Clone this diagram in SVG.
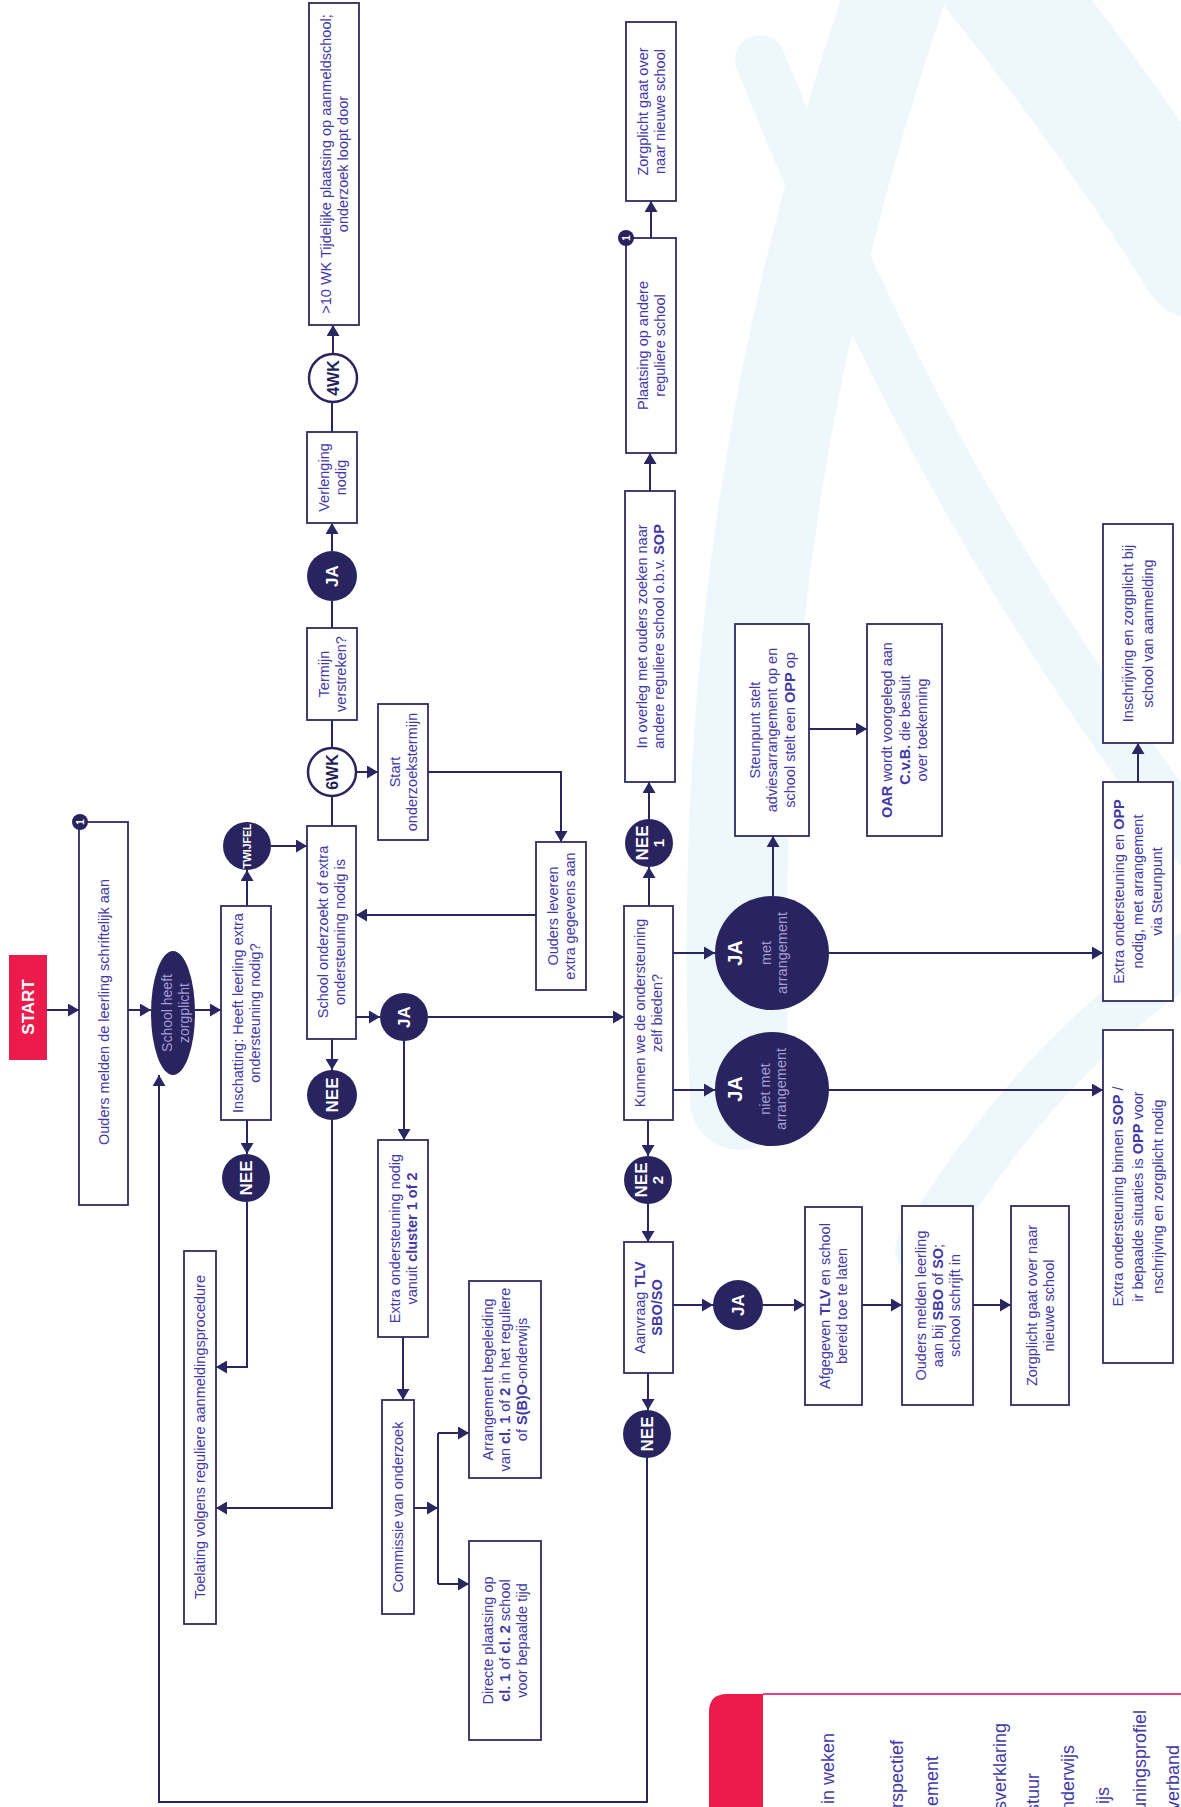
<svg xmlns="http://www.w3.org/2000/svg" width="1181" height="1807" viewBox="0 0 1181 1807">
<defs>
<style>
.box{fill:#fff;stroke:#2f2c62;stroke-width:1.8}
.c{fill:#29245f}
.w{fill:#fff;stroke:#29245f;stroke-width:2.5}
.ln{fill:none;stroke:#2a2662;stroke-width:2;marker-end:url(#ah)}
.ln0{fill:none;stroke:#2a2662;stroke-width:2}
.t{font-family:"Liberation Sans",Arial,sans-serif;font-size:14.5px;fill:#4338a8;text-anchor:middle}
.b{font-weight:bold}
.ct{font-family:"Liberation Sans",Arial,sans-serif;font-weight:bold;fill:#fff;text-anchor:middle}
.cw{font-family:"Liberation Sans",Arial,sans-serif;font-weight:bold;fill:#231f5a;text-anchor:middle;font-size:16px}
.cl{font-family:"Liberation Sans",Arial,sans-serif;fill:#a49dd6;text-anchor:middle;font-size:14.5px}
.lg{font-family:"Liberation Sans",Arial,sans-serif;fill:#4338a8;text-anchor:end;font-size:18px}
.wm{fill:none;stroke:#eef7fc;stroke-linecap:round}
</style>
<marker id="ah" markerUnits="userSpaceOnUse" markerWidth="11" markerHeight="13" refX="11" refY="6.5" orient="auto">
<path d="M0,0 L11,6.5 L0,13 Z" fill="#2a2662"/>
</marker>
</defs>
<rect width="1181" height="1807" fill="#fff"/>
<g id="watermark">
<path class="wm" d="M900,-20 C790,300 720,650 740,1100" stroke-width="100"/>
<path class="wm" d="M760,60 C850,280 950,520 1200,850" stroke-width="50"/>
<path class="wm" d="M1200,950 C1090,1020 1000,1120 920,1250" stroke-width="50"/>
<path class="wm" d="M1000,-20 C1080,80 1150,180 1200,260" stroke-width="120"/>
</g>
<g id="connectors">
<path class="ln" d="M47,1010 H79"/>
<path class="ln" d="M128,1010 H151"/>
<path class="ln" d="M195,1010 H221"/>
<path class="ln" d="M247,906 V870"/>
<path class="ln" d="M271,846 H307"/>
<path class="ln0" d="M332,826 V796"/>
<path class="ln" d="M356,772 H378"/>
<path class="ln0" d="M332,748 V720"/>
<path class="ln0" d="M332,628 V601"/>
<path class="ln" d="M332,551 V523"/>
<path class="ln0" d="M332,432 V402"/>
<path class="ln" d="M333,354 V325"/>
<path class="ln" d="M428,772 H561 V842"/>
<path class="ln" d="M536,915 H356"/>
<path class="ln" d="M332,1039 V1070"/>
<path class="ln" d="M332,1120 V1508 H216"/>
<path class="ln" d="M247,1120 V1154"/>
<path class="ln" d="M247,1202 V1367 H216"/>
<path class="ln" d="M356,1017 H380"/>
<path class="ln" d="M428,1017 H624"/>
<path class="ln" d="M404,1041 V1140"/>
<path class="ln" d="M403,1337 V1400"/>
<path class="ln" d="M414,1508 H438"/>
<path class="ln0" d="M438,1433 V1584"/>
<path class="ln" d="M438,1433 H469"/>
<path class="ln" d="M438,1584 H469"/>
<path class="ln" d="M649,906 V867"/>
<path class="ln" d="M649,819 V782"/>
<path class="ln" d="M650,491 V453"/>
<path class="ln" d="M651,238 V201"/>
<path class="ln" d="M673,953 H715"/>
<path class="ln" d="M673,1090 H715"/>
<path class="ln" d="M773,896 V836"/>
<path class="ln" d="M809,729 H867"/>
<path class="ln" d="M829,953 H1103"/>
<path class="ln" d="M829,1090 H1103"/>
<path class="ln" d="M1138,782 V743"/>
<path class="ln" d="M648,1120 V1156"/>
<path class="ln" d="M648,1204 V1242"/>
<path class="ln" d="M673,1305 H713"/>
<path class="ln" d="M763,1305 H805"/>
<path class="ln" d="M862,1305 H902"/>
<path class="ln" d="M973,1305 H1011"/>
<path class="ln" d="M648,1373 V1410"/>
<path class="ln" d="M647,1458 V1802 H159 V1075"/>
</g>
<g id="start">
<rect x="9" y="955" width="38" height="105" fill="#ec1b4b"/>
<text class="ct" style="font-size:17px" transform="rotate(-90 28 1007)" x="28" y="1013">START</text>
</g>
<g id="ouders-melden">
<rect class="box" x="79" y="822" width="49" height="383"/>
<text class="t" transform="rotate(-90 104 1012)"><tspan x="104" y="1017">Ouders melden de leerling schriftelijk aan</tspan></text>
<circle class="c" cx="80" cy="822" r="8"/>
<text class="ct" style="font-size:10px" transform="rotate(-90 80 822)" x="80" y="826">1</text>
</g>
<g id="zorgplicht-ellipse">
<ellipse class="c" cx="173" cy="1013" rx="22" ry="62"/>
<text class="cl" style="font-size:14px" transform="rotate(-90 173 1013)"><tspan x="173" y="1012">School heeft</tspan><tspan x="173" y="1029">zorgplicht</tspan></text>
</g>
<g id="inschatting">
<rect class="box" x="221" y="906" width="50" height="214"/>
<text class="t" transform="rotate(-90 246 1013)"><tspan x="246" y="1009.5">Inschatting: Heeft leerling extra</tspan><tspan x="246" y="1026.5">ondersteuning nodig?</tspan></text>
</g>
<g id="twijfel">
<circle class="c" cx="247" cy="846" r="24"/>
<text class="ct" style="font-size:10.5px" transform="rotate(-90 247 846)" x="247" y="850">TWIJFEL</text>
</g>
<g id="school-onderzoekt">
<rect class="box" x="307" y="826" width="49" height="213"/>
<text class="t" transform="rotate(-90 331.5 932)"><tspan x="331.5" y="928.5">School onderzoekt of extra</tspan><tspan x="331.5" y="945.5">ondersteuning nodig is</tspan></text>
</g>
<g id="wk6">
<circle class="w" cx="332" cy="772" r="24"/>
<text class="cw" transform="rotate(-90 332 772)" x="332" y="777.5">6WK</text>
</g>
<g id="termijn">
<rect class="box" x="307" y="628" width="50" height="92"/>
<text class="t" transform="rotate(-90 332 674)"><tspan x="332" y="670.5">Termijn</tspan><tspan x="332" y="687.5">verstreken?</tspan></text>
</g>
<g id="ja-termijn">
<circle class="c" cx="332" cy="576" r="25"/>
<text class="ct" style="font-size:17px" transform="rotate(-90 332 576)" x="332" y="582">JA</text>
</g>
<g id="verlenging">
<rect class="box" x="307" y="432" width="50" height="91"/>
<text class="t" transform="rotate(-90 332 477.5)"><tspan x="332" y="474">Verlenging</tspan><tspan x="332" y="491">nodig</tspan></text>
</g>
<g id="wk4">
<circle class="w" cx="333" cy="378" r="24"/>
<text class="cw" transform="rotate(-90 333 378)" x="333" y="383.5">4WK</text>
</g>
<g id="tijdelijke-plaatsing">
<rect class="box" x="309" y="3" width="50" height="322"/>
<text class="t" transform="rotate(-90 334 164)"><tspan x="334" y="160.5">&gt;10 WK Tijdelijke plaatsing op aanmeldschool;</tspan><tspan x="334" y="177.5">onderzoek loopt door</tspan></text>
</g>
<g id="start-onderzoekstermijn">
<rect class="box" x="378" y="704" width="50" height="136"/>
<text class="t" transform="rotate(-90 403 772)"><tspan x="403" y="768.5">Start</tspan><tspan x="403" y="785.5">onderzoekstermijn</tspan></text>
</g>
<g id="ouders-leveren">
<rect class="box" x="536" y="842" width="50" height="148"/>
<text class="t" transform="rotate(-90 561 916)"><tspan x="561" y="912.5">Ouders leveren</tspan><tspan x="561" y="929.5">extra gegevens aan</tspan></text>
</g>
<g id="nee-onderzoek">
<circle class="c" cx="332" cy="1095" r="25"/>
<text class="ct" style="font-size:17px" transform="rotate(-90 332 1095)" x="332" y="1101">NEE</text>
</g>
<g id="nee-inschatting">
<circle class="c" cx="246" cy="1178" r="24"/>
<text class="ct" style="font-size:17px" transform="rotate(-90 246 1178)" x="246" y="1184">NEE</text>
</g>
<g id="toelating">
<rect class="box" x="184" y="1251" width="32" height="373"/>
<text class="t" transform="rotate(-90 200 1437)"><tspan x="200" y="1442">Toelating volgens reguliere aanmeldingsprocedure</tspan></text>
</g>
<g id="ja-onderzoek">
<circle class="c" cx="404" cy="1017" r="24"/>
<text class="ct" style="font-size:17px" transform="rotate(-90 404 1017)" x="404" y="1023">JA</text>
</g>
<g id="extra-cluster">
<rect class="box" x="378" y="1140" width="50" height="197"/>
<text class="t" transform="rotate(-90 403 1238.5)"><tspan x="403" y="1235">Extra ondersteuning nodig</tspan><tspan x="403" y="1252">vanuit <tspan class="b">cluster 1 of 2</tspan></tspan></text>
</g>
<g id="commissie">
<rect class="box" x="382" y="1400" width="32" height="214"/>
<text class="t" transform="rotate(-90 398 1507)"><tspan x="398" y="1512">Commissie van onderzoek</tspan></text>
</g>
<g id="arrangement-begeleiding">
<rect class="box" x="469" y="1281" width="72" height="197"/>
<text class="t" transform="rotate(-90 505 1379.5)"><tspan x="505" y="1367.5">Arrangement begeleiding</tspan><tspan x="505" y="1384.5">van <tspan class="b">cl. 1</tspan> of <tspan class="b">2</tspan> in het reguliere</tspan><tspan x="505" y="1401.5">of <tspan class="b">S(B)O</tspan>-onderwijs</tspan></text>
</g>
<g id="directe-plaatsing">
<rect class="box" x="469" y="1541" width="72" height="199"/>
<text class="t" transform="rotate(-90 505 1640.5)"><tspan x="505" y="1628.5">Directe plaatsing op</tspan><tspan x="505" y="1645.5"><tspan class="b">cl. 1</tspan> of <tspan class="b">cl. 2</tspan> school</tspan><tspan x="505" y="1662.5">voor bepaalde tijd</tspan></text>
</g>
<g id="kunnen">
<rect class="box" x="624" y="906" width="49" height="214"/>
<text class="t" transform="rotate(-90 648.5 1013)"><tspan x="648.5" y="1009.5">Kunnen we de ondersteuning</tspan><tspan x="648.5" y="1026.5">zelf bieden?</tspan></text>
</g>
<g id="nee1">
<circle class="c" cx="649" cy="843" r="24"/>
<text class="ct" style="font-size:17px" transform="rotate(-90 649 843)"><tspan x="649" y="842">NEE</tspan><tspan x="649" y="858" style="font-size:15px">1</tspan></text>
</g>
<g id="in-overleg">
<rect class="box" x="625" y="491" width="50" height="291"/>
<text class="t" transform="rotate(-90 650 636.5)"><tspan x="650" y="633">In overleg met ouders zoeken naar</tspan><tspan x="650" y="650">andere reguliere school o.b.v. <tspan class="b">SOP</tspan></tspan></text>
</g>
<g id="plaatsing-andere">
<rect class="box" x="626" y="238" width="50" height="215"/>
<text class="t" transform="rotate(-90 651 345.5)"><tspan x="651" y="342">Plaatsing op andere</tspan><tspan x="651" y="359">reguliere school</tspan></text>
<circle class="c" cx="626" cy="238" r="8"/>
<text class="ct" style="font-size:10px" transform="rotate(-90 626 238)" x="626" y="242">1</text>
</g>
<g id="zorgplicht-over-1">
<rect class="box" x="626" y="22" width="50" height="179"/>
<text class="t" transform="rotate(-90 651 111.5)"><tspan x="651" y="108">Zorgplicht gaat over</tspan><tspan x="651" y="125">naar nieuwe school</tspan></text>
</g>
<g id="ja-met">
<circle class="c" cx="772" cy="953" r="57"/>
<text class="ct" style="font-size:20px" transform="rotate(-90 772 953)" x="772" y="923">JA</text>
<text class="cl" transform="rotate(-90 772 953)"><tspan x="772" y="952">met</tspan><tspan x="772" y="968">arrangement</tspan></text>
</g>
<g id="ja-niet-met">
<circle class="c" cx="772" cy="1089" r="57"/>
<text class="ct" style="font-size:20px" transform="rotate(-90 772 1089)" x="772" y="1059">JA</text>
<text class="cl" transform="rotate(-90 772 1089)"><tspan x="772" y="1087">niet met</tspan><tspan x="772" y="1103">arrangement</tspan></text>
</g>
<g id="steunpunt">
<rect class="box" x="735" y="624" width="74" height="212"/>
<text class="t" transform="rotate(-90 772 730)"><tspan x="772" y="717.5">Steunpunt stelt</tspan><tspan x="772" y="735">adviesarrangement op en</tspan><tspan x="772" y="752.5">school stelt een <tspan class="b">OPP</tspan> op</tspan></text>
</g>
<g id="oar">
<rect class="box" x="867" y="624" width="75" height="212"/>
<text class="t" transform="rotate(-90 904.5 730)"><tspan x="904.5" y="717.5"><tspan class="b">OAR</tspan> wordt voorgelegd aan</tspan><tspan x="904.5" y="735"><tspan class="b">C.v.B.</tspan> die besluit</tspan><tspan x="904.5" y="752.5">over toekenning</tspan></text>
</g>
<g id="extra-opp">
<rect class="box" x="1103" y="782" width="70" height="219"/>
<text class="t" transform="rotate(-90 1138 891.5)"><tspan x="1138" y="877.5">Extra ondersteuning en <tspan class="b">OPP</tspan></tspan><tspan x="1138" y="896.5">nodig, met arrangement</tspan><tspan x="1138" y="915.5">via Steunpunt</tspan></text>
</g>
<g id="inschrijving">
<rect class="box" x="1103" y="524" width="70" height="219"/>
<text class="t" transform="rotate(-90 1138 633.5)"><tspan x="1138" y="628">Inschrijving en zorgplicht bij</tspan><tspan x="1138" y="648">school van aanmelding</tspan></text>
</g>
<g id="extra-sop">
<rect class="box" x="1103" y="1030" width="70" height="333"/>
<text class="t" transform="rotate(-90 1138 1196.5)"><tspan x="1138" y="1181.5">Extra ondersteuning binnen <tspan class="b">SOP</tspan> /</tspan><tspan x="1138" y="1201.5">ir bepaalde situaties is <tspan class="b">OPP</tspan> voor</tspan><tspan x="1138" y="1221.5">nschrijving en zorgplicht nodig</tspan></text>
</g>
<g id="nee2">
<circle class="c" cx="648" cy="1180" r="24"/>
<text class="ct" style="font-size:17px" transform="rotate(-90 648 1180)"><tspan x="648" y="1179">NEE</tspan><tspan x="648" y="1195" style="font-size:15px">2</tspan></text>
</g>
<g id="aanvraag-tlv">
<rect class="box" x="624" y="1242" width="49" height="131"/>
<text class="t" transform="rotate(-90 648.5 1307.5)"><tspan x="648.5" y="1304">Aanvraag <tspan class="b">TLV</tspan></tspan><tspan x="648.5" y="1321" class="b">SBO/SO</tspan></text>
</g>
<g id="ja-tlv">
<circle class="c" cx="738" cy="1305" r="25"/>
<text class="ct" style="font-size:17px" transform="rotate(-90 738 1305)" x="738" y="1311">JA</text>
</g>
<g id="afgegeven-tlv">
<rect class="box" x="805" y="1207" width="57" height="198"/>
<text class="t" transform="rotate(-90 833.5 1306)"><tspan x="833.5" y="1302.5">Afgegeven <tspan class="b">TLV</tspan> en school</tspan><tspan x="833.5" y="1319.5">bereid toe te laten</tspan></text>
</g>
<g id="ouders-melden-sbo">
<rect class="box" x="902" y="1206" width="71" height="199"/>
<text class="t" transform="rotate(-90 937.5 1305.5)"><tspan x="937.5" y="1293.5">Ouders melden leerling</tspan><tspan x="937.5" y="1310.5">aan bij <tspan class="b">SBO</tspan> of <tspan class="b">SO</tspan>;</tspan><tspan x="937.5" y="1327.5">school schrijft in</tspan></text>
</g>
<g id="zorgplicht-over-2">
<rect class="box" x="1011" y="1206" width="58" height="199"/>
<text class="t" transform="rotate(-90 1040 1305.5)"><tspan x="1040" y="1302">Zorgplicht gaat over naar</tspan><tspan x="1040" y="1319">nieuwe school</tspan></text>
</g>
<g id="nee-tlv">
<circle class="c" cx="647" cy="1434" r="24"/>
<text class="ct" style="font-size:17px" transform="rotate(-90 647 1434)" x="647" y="1440">NEE</text>
</g>
<g id="legend">
<path d="M709,1807 V1712 Q709,1694 727,1694 H763 V1807 Z" fill="#ec1b4b"/>
<path d="M763,1694 H1181" stroke="#e8457a" stroke-width="2" fill="none"/>
<text class="lg" transform="rotate(-90 828 1733)" x="828" y="1739">in weken</text>
<text class="lg" transform="rotate(-90 897 1740)" x="897" y="1746">rspectief</text>
<text class="lg" transform="rotate(-90 932 1756)" x="932" y="1762">ement</text>
<text class="lg" transform="rotate(-90 1000 1723)" x="1000" y="1729">sverklaring</text>
<text class="lg" transform="rotate(-90 1033 1773)" x="1033" y="1779">stuur</text>
<text class="lg" transform="rotate(-90 1068 1745)" x="1068" y="1751">nderwijs</text>
<text class="lg" transform="rotate(-90 1103 1787)" x="1103" y="1793">ijs</text>
<text class="lg" transform="rotate(-90 1140 1710)" x="1140" y="1716">uningsprofiel</text>
<text class="lg" transform="rotate(-90 1173 1745)" x="1173" y="1751">verband</text>
</g>
</svg>
